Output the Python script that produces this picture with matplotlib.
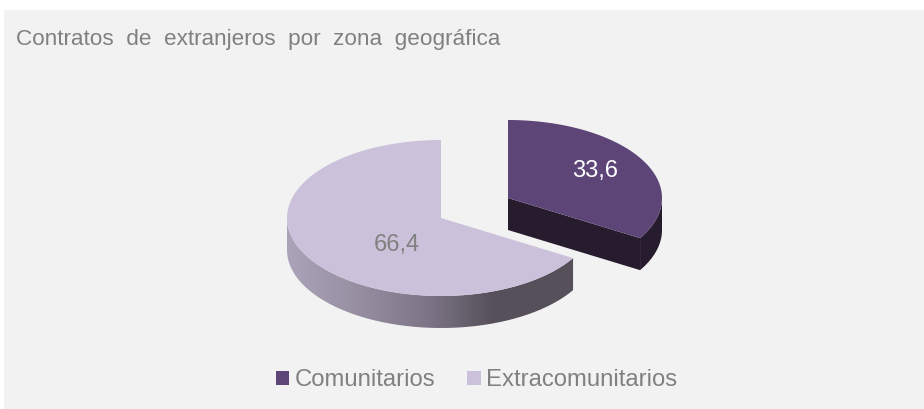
import numpy as np
import matplotlib.pyplot as plt
from matplotlib.colors import LinearSegmentedColormap
from matplotlib.patches import Patch, PathPatch, Rectangle
from matplotlib.path import Path

labels = ['Comunitarios', 'Extracomunitarios']
values = [33.6, 66.4]
value_labels = ['33,6', '66,4']

plt.rcParams['font.family'] = ['Liberation Sans', 'DejaVu Sans']

purple = '#5e4577'
purple_dark = '#261c2e'
lilac = '#cbc1da'
grey_text = '#808080'
bg = '#f2f2f2'

# pie geometry in pixels
cx, cy = 441, 218
rx, ry = 154, 78
depth = 32
off_x, off_y = 67, -20

fig = plt.figure(figsize=(9.24, 4.09), dpi=100)
ax = fig.add_axes([0, 0, 1, 1])
ax.set_xlim(0, 924)
ax.set_ylim(409, 0)
ax.axis('off')
ax.add_patch(Rectangle((4, 10), 920, 399, color=bg, lw=0))


def rim(a, b, x0, y0):
    t = np.radians(np.linspace(a, b, 200))
    return x0 + rx*np.cos(t), y0 - ry*np.sin(t)


def poly(xs, ys, **kw):
    pts = np.column_stack([xs, ys])
    p = PathPatch(Path(np.vstack([pts, pts[:1]])), lw=0, **kw)
    ax.add_patch(p)
    return p


# angles: slices run clockwise from 12 o'clock
small_end = 90 - values[0]/sum(values)*360
large_end = 90 + values[1]/sum(values)*360

# large slice: outer wall with a gradient
xs, ys = rim(180, large_end, cx, cy)
wall = poly(np.r_[xs, xs[::-1]], np.r_[ys, ys[::-1] + depth], facecolor='none')
wall_cmap = LinearSegmentedColormap.from_list('wall', [
    (0, '#aba3b8'), (0.3, '#928a9c'), (0.5, '#7c7485'), (0.72, '#55505a'), (1, '#55505a')])
im = ax.imshow(np.linspace(0, 1, 256).reshape(1, -1), cmap=wall_cmap, aspect='auto',
               extent=(xs.min(), xs.max(), cy + ry + depth, cy - ry), zorder=2)
im.set_clip_path(wall)
ax.set_xlim(0, 924)
ax.set_ylim(409, 0)

# large slice: top
xs, ys = rim(90, large_end, cx, cy)
poly(np.r_[cx, xs], np.r_[cy, ys], facecolor=lilac, zorder=3)

# small slice: walls then top
sx, sy = cx + off_x, cy + off_y
xs, ys = rim(small_end, 0, sx, sy)
poly(np.r_[xs, xs[::-1]], np.r_[ys, ys[::-1] + depth], facecolor=purple_dark, zorder=2)
end_x, end_y = rim(small_end, small_end, sx, sy)
poly([sx, end_x[0], end_x[0], sx], [sy, end_y[0], end_y[0] + depth, sy + depth],
     facecolor=purple_dark, zorder=2)
xs, ys = rim(small_end, 90, sx, sy)
poly(np.r_[sx, xs], np.r_[sy, ys], facecolor=purple, zorder=3)

ax.text(595, 171, value_labels[0], color='white', fontsize=17, ha='center', va='center', zorder=4)
ax.text(397, 245, value_labels[1], color=grey_text, fontsize=17, ha='center', va='center', zorder=4)

ax.text(16, 40, 'Contratos  de  extranjeros  por  zona  geográfica', color=grey_text,
        fontsize=16.2, ha='left', va='center')

handles = [Patch(color=purple, lw=0), Patch(color=lilac, lw=0)]
ax.legend(handles, labels, loc='center', bbox_to_anchor=(476.5/924, 1 - 380.5/409), ncol=2,
          frameon=False, fontsize=17.2, labelcolor=grey_text, handlelength=0.55, handleheight=0.55,
          handletextpad=0.22, columnspacing=1.35, borderpad=0, borderaxespad=0)

plt.savefig('out.png', dpi=100)
